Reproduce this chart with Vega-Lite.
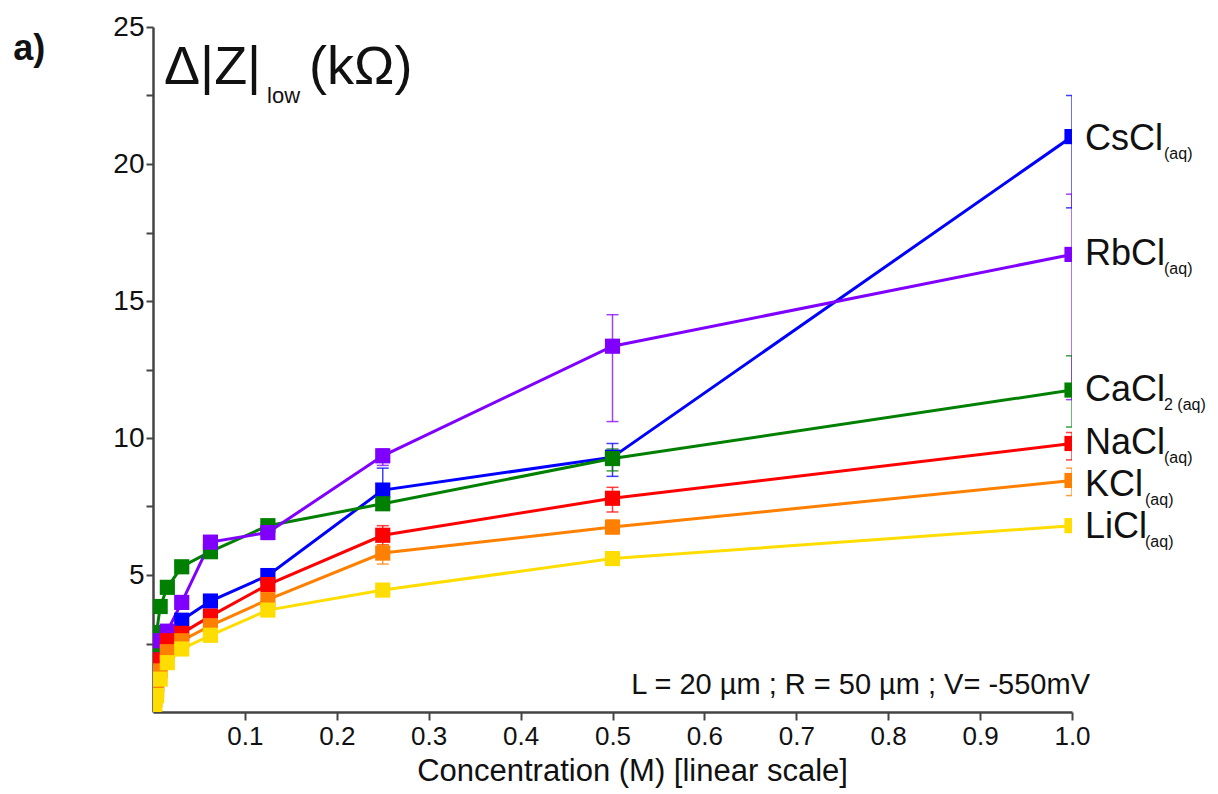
{
  "$schema": "https://vega.github.io/schema/vega-lite/v6.json",
  "width": 919,
  "height": 685,
  "autosize": {"type": "none"},
  "padding": {"left": 153, "top": 27, "right": 146, "bottom": 82},
  "background": "white",
  "config": {"view": {"stroke": null}, "font": "Liberation Sans"},
  "datasets": {
    "main": [
      {"salt": "CsCl", "c": 0.001, "z": 0.5, "lo": 0.35, "hi": 0.65},
      {"salt": "CsCl", "c": 0.002, "z": 0.9, "lo": 0.75, "hi": 1.05},
      {"salt": "CsCl", "c": 0.0039, "z": 1.5, "lo": 1.35, "hi": 1.65},
      {"salt": "CsCl", "c": 0.0078, "z": 2.1, "lo": 1.95, "hi": 2.25},
      {"salt": "CsCl", "c": 0.0156, "z": 2.7, "lo": 2.55, "hi": 2.85},
      {"salt": "CsCl", "c": 0.03125, "z": 3.35, "lo": 3.2, "hi": 3.5},
      {"salt": "CsCl", "c": 0.0625, "z": 4.05, "lo": 3.9, "hi": 4.2},
      {"salt": "CsCl", "c": 0.125, "z": 4.98, "lo": 4.8, "hi": 5.15},
      {"salt": "CsCl", "c": 0.25, "z": 8.1, "lo": 7.7, "hi": 8.9},
      {"salt": "CsCl", "c": 0.5, "z": 9.3, "lo": 8.6, "hi": 9.8},
      {"salt": "CsCl", "c": 1.0, "z": 21.0, "lo": 18.4, "hi": 22.5},
      {"salt": "CaCl2", "c": 0.001, "z": 1.5, "lo": 1.35, "hi": 1.65},
      {"salt": "CaCl2", "c": 0.002, "z": 2.3, "lo": 2.15, "hi": 2.45},
      {"salt": "CaCl2", "c": 0.0039, "z": 2.9, "lo": 2.75, "hi": 3.05},
      {"salt": "CaCl2", "c": 0.0078, "z": 3.85, "lo": 3.7, "hi": 4.0},
      {"salt": "CaCl2", "c": 0.0156, "z": 4.55, "lo": 4.4, "hi": 4.7},
      {"salt": "CaCl2", "c": 0.03125, "z": 5.3, "lo": 5.15, "hi": 5.45},
      {"salt": "CaCl2", "c": 0.0625, "z": 5.85, "lo": 5.7, "hi": 6.0},
      {"salt": "CaCl2", "c": 0.125, "z": 6.8, "lo": 6.65, "hi": 6.95},
      {"salt": "CaCl2", "c": 0.25, "z": 7.6, "lo": 7.4, "hi": 7.8},
      {"salt": "CaCl2", "c": 0.5, "z": 9.25, "lo": 8.8, "hi": 9.6},
      {"salt": "CaCl2", "c": 1.0, "z": 11.75, "lo": 10.4, "hi": 13.0},
      {"salt": "RbCl", "c": 0.001, "z": 0.8, "lo": 0.65, "hi": 0.95},
      {"salt": "RbCl", "c": 0.002, "z": 1.3, "lo": 1.15, "hi": 1.45},
      {"salt": "RbCl", "c": 0.0039, "z": 1.9, "lo": 1.75, "hi": 2.05},
      {"salt": "RbCl", "c": 0.0078, "z": 2.6, "lo": 2.45, "hi": 2.75},
      {"salt": "RbCl", "c": 0.0156, "z": 2.95, "lo": 2.8, "hi": 3.1},
      {"salt": "RbCl", "c": 0.03125, "z": 4.0, "lo": 3.85, "hi": 4.15},
      {"salt": "RbCl", "c": 0.0625, "z": 6.2, "lo": 6.0, "hi": 6.4},
      {"salt": "RbCl", "c": 0.125, "z": 6.55, "lo": 6.3, "hi": 6.8},
      {"salt": "RbCl", "c": 0.25, "z": 9.35, "lo": 9.0, "hi": 9.6},
      {"salt": "RbCl", "c": 0.5, "z": 13.35, "lo": 10.6, "hi": 14.5},
      {"salt": "RbCl", "c": 1.0, "z": 16.7, "lo": 11.4, "hi": 18.9},
      {"salt": "NaCl", "c": 0.001, "z": 0.3, "lo": 0.15, "hi": 0.45},
      {"salt": "NaCl", "c": 0.002, "z": 0.6, "lo": 0.45, "hi": 0.75},
      {"salt": "NaCl", "c": 0.0039, "z": 1.0, "lo": 0.85, "hi": 1.15},
      {"salt": "NaCl", "c": 0.0078, "z": 1.9, "lo": 1.75, "hi": 2.05},
      {"salt": "NaCl", "c": 0.0156, "z": 2.6, "lo": 2.45, "hi": 2.75},
      {"salt": "NaCl", "c": 0.03125, "z": 2.87, "lo": 2.7, "hi": 3.0},
      {"salt": "NaCl", "c": 0.0625, "z": 3.5, "lo": 3.35, "hi": 3.65},
      {"salt": "NaCl", "c": 0.125, "z": 4.65, "lo": 4.5, "hi": 4.8},
      {"salt": "NaCl", "c": 0.25, "z": 6.45, "lo": 6.1, "hi": 6.8},
      {"salt": "NaCl", "c": 0.5, "z": 7.8, "lo": 7.3, "hi": 8.2},
      {"salt": "NaCl", "c": 1.0, "z": 9.8, "lo": 9.2, "hi": 10.2},
      {"salt": "KCl", "c": 0.001, "z": 0.2, "lo": 0.05, "hi": 0.35},
      {"salt": "KCl", "c": 0.002, "z": 0.45, "lo": 0.3, "hi": 0.6},
      {"salt": "KCl", "c": 0.0039, "z": 0.8, "lo": 0.65, "hi": 0.95},
      {"salt": "KCl", "c": 0.0078, "z": 1.5, "lo": 1.35, "hi": 1.65},
      {"salt": "KCl", "c": 0.0156, "z": 2.2, "lo": 2.05, "hi": 2.35},
      {"salt": "KCl", "c": 0.03125, "z": 2.6, "lo": 2.45, "hi": 2.75},
      {"salt": "KCl", "c": 0.0625, "z": 3.15, "lo": 3.0, "hi": 3.3},
      {"salt": "KCl", "c": 0.125, "z": 4.1, "lo": 3.95, "hi": 4.25},
      {"salt": "KCl", "c": 0.25, "z": 5.8, "lo": 5.4, "hi": 6.1},
      {"salt": "KCl", "c": 0.5, "z": 6.75, "lo": 6.5, "hi": 7.0},
      {"salt": "KCl", "c": 1.0, "z": 8.45, "lo": 7.9, "hi": 8.9},
      {"salt": "LiCl", "c": 0.001, "z": 0.1, "lo": 0.0, "hi": 0.25},
      {"salt": "LiCl", "c": 0.002, "z": 0.3, "lo": 0.15, "hi": 0.45},
      {"salt": "LiCl", "c": 0.0039, "z": 0.6, "lo": 0.45, "hi": 0.75},
      {"salt": "LiCl", "c": 0.0078, "z": 1.2, "lo": 1.05, "hi": 1.35},
      {"salt": "LiCl", "c": 0.0156, "z": 1.8, "lo": 1.65, "hi": 1.95},
      {"salt": "LiCl", "c": 0.03125, "z": 2.3, "lo": 2.15, "hi": 2.45},
      {"salt": "LiCl", "c": 0.0625, "z": 2.8, "lo": 2.65, "hi": 2.95},
      {"salt": "LiCl", "c": 0.125, "z": 3.72, "lo": 3.55, "hi": 3.9},
      {"salt": "LiCl", "c": 0.25, "z": 4.45, "lo": 4.3, "hi": 4.6},
      {"salt": "LiCl", "c": 0.5, "z": 5.6, "lo": 5.45, "hi": 5.75},
      {"salt": "LiCl", "c": 1.0, "z": 6.8, "lo": 6.6, "hi": 7.0}
    ],
    "labels": [
      {"name": "CsCl", "sub": "(aq)", "ly": 20.9, "grp": "a"},
      {"name": "RbCl", "sub": "(aq)", "ly": 16.7, "grp": "a"},
      {"name": "CaCl", "sub": "2 (aq)", "ly": 11.75, "grp": "a"},
      {"name": "NaCl", "sub": "(aq)", "ly": 9.8, "grp": "a"},
      {"name": "KCl", "sub": "(aq)", "ly": 8.3, "grp": "b"},
      {"name": "LiCl", "sub": "(aq)", "ly": 6.75, "grp": "b"}
    ]
  },
  "layer": [
    {
      "data": {"name": "main"},
      "mark": {"type": "rule", "strokeWidth": 1.5, "opacity": 0.75, "clip": true},
      "encoding": {
        "x": {"field": "c", "type": "quantitative",
          "scale": {"domain": [0, 1], "nice": false, "zero": false},
          "axis": {"values": [0.1, 0.2, 0.3, 0.4, 0.5, 0.6, 0.7, 0.8, 0.9, 1.0], "format": ".1f",
            "grid": false, "domainColor": "#444", "domainWidth": 2.5, "tickColor": "#444", "tickWidth": 2,
            "tickSize": 8, "labelFontSize": 26, "labelColor": "#111", "labelPadding": 3, "labelFlush": false,
            "title": "Concentration (M) [linear scale]", "titleFontSize": 31, "titleFontWeight": "normal",
            "titleColor": "#111", "titlePadding": 7, "titleX": 479}},
        "y": {"field": "lo", "type": "quantitative",
          "scale": {"domain": [0, 25], "nice": false, "zero": false},
          "axis": {"values": [2.5, 5, 7.5, 10, 12.5, 15, 17.5, 20, 22.5, 25],
            "labelExpr": "datum.value % 5 === 0 ? datum.label : ''",
            "grid": false, "domainColor": "#444", "domainWidth": 2.5, "tickColor": "#444", "tickWidth": 2,
            "tickSize": 7, "labelFontSize": 28, "labelColor": "#111", "labelPadding": 2, "title": null}},
        "y2": {"field": "hi"},
        "color": {"field": "salt", "type": "nominal",
          "scale": {"domain": ["CsCl", "CaCl2", "RbCl", "NaCl", "KCl", "LiCl"],
            "range": ["#0000ff", "#008000", "#8000ff", "#ff0000", "#ff8000", "#ffdd00"]},
          "legend": null}
      }
    },
    {
      "data": {"name": "main"},
      "mark": {"type": "tick", "orient": "horizontal", "size": 12, "thickness": 1.5, "opacity": 0.75, "clip": true},
      "encoding": {
        "x": {"field": "c", "type": "quantitative"},
        "y": {"field": "lo", "type": "quantitative"},
        "color": {"field": "salt", "type": "nominal", "legend": null}
      }
    },
    {
      "data": {"name": "main"},
      "mark": {"type": "tick", "orient": "horizontal", "size": 12, "thickness": 1.5, "opacity": 0.75, "clip": true},
      "encoding": {
        "x": {"field": "c", "type": "quantitative"},
        "y": {"field": "hi", "type": "quantitative"},
        "color": {"field": "salt", "type": "nominal", "legend": null}
      }
    },
    {
      "data": {"name": "main"},
      "mark": {"type": "line", "strokeWidth": 3, "clip": true},
      "encoding": {
        "x": {"field": "c", "type": "quantitative"},
        "y": {"field": "z", "type": "quantitative"},
        "color": {"field": "salt", "type": "nominal", "legend": null}
      }
    },
    {
      "data": {"name": "main"},
      "mark": {"type": "point", "shape": "square", "filled": true, "size": 230, "opacity": 1, "clip": true},
      "encoding": {
        "x": {"field": "c", "type": "quantitative"},
        "y": {"field": "z", "type": "quantitative"},
        "color": {"field": "salt", "type": "nominal", "legend": null}
      }
    },
    {
      "data": {"name": "labels"},
      "mark": {"type": "text", "align": "left", "baseline": "middle", "fontSize": 36, "dx": 13, "color": "#111"},
      "encoding": {
        "x": {"datum": 1},
        "y": {"field": "ly", "type": "quantitative"},
        "text": {"field": "name"}
      }
    },
    {
      "data": {"name": "labels"},
      "transform": [{"filter": "datum.grp === 'a'"}],
      "mark": {"type": "text", "align": "left", "baseline": "middle", "fontSize": 16, "dx": 92, "dy": 15, "color": "#111"},
      "encoding": {
        "x": {"datum": 1},
        "y": {"field": "ly", "type": "quantitative"},
        "text": {"field": "sub"}
      }
    },
    {
      "data": {"name": "labels"},
      "transform": [{"filter": "datum.grp === 'b'"}],
      "mark": {"type": "text", "align": "left", "baseline": "middle", "fontSize": 16, "dx": 73, "dy": 15, "color": "#111"},
      "encoding": {
        "x": {"datum": 1},
        "y": {"field": "ly", "type": "quantitative"},
        "text": {"field": "sub"}
      }
    },
    {
      "data": {"values": [{"t": "a)"}]},
      "mark": {"type": "text", "align": "left", "baseline": "middle", "fontSize": 36, "fontWeight": "bold", "color": "#111"},
      "encoding": {
        "x": {"datum": -0.152},
        "y": {"datum": 24.2},
        "text": {"field": "t"}
      }
    },
    {
      "data": {"values": [{"t": "Δ|Z|"}]},
      "mark": {"type": "text", "align": "left", "baseline": "middle", "fontSize": 54, "color": "#111"},
      "encoding": {
        "x": {"datum": 0.012},
        "y": {"datum": 23.5},
        "text": {"field": "t"}
      }
    },
    {
      "data": {"values": [{"t": "low"}]},
      "mark": {"type": "text", "align": "left", "baseline": "middle", "fontSize": 22, "dx": 103, "dy": 28, "color": "#111"},
      "encoding": {
        "x": {"datum": 0.012},
        "y": {"datum": 23.5},
        "text": {"field": "t"}
      }
    },
    {
      "data": {"values": [{"t": "(kΩ)"}]},
      "mark": {"type": "text", "align": "left", "baseline": "middle", "fontSize": 54, "dx": 145, "color": "#111"},
      "encoding": {
        "x": {"datum": 0.012},
        "y": {"datum": 23.5},
        "text": {"field": "t"}
      }
    },
    {
      "data": {"values": [{"t": "L = 20 µm ; R = 50 µm ; V= -550mV"}]},
      "mark": {"type": "text", "align": "right", "baseline": "middle", "fontSize": 29, "dx": 18, "color": "#111"},
      "encoding": {
        "x": {"datum": 1},
        "y": {"datum": 1.0},
        "text": {"field": "t"}
      }
    }
  ]
}
